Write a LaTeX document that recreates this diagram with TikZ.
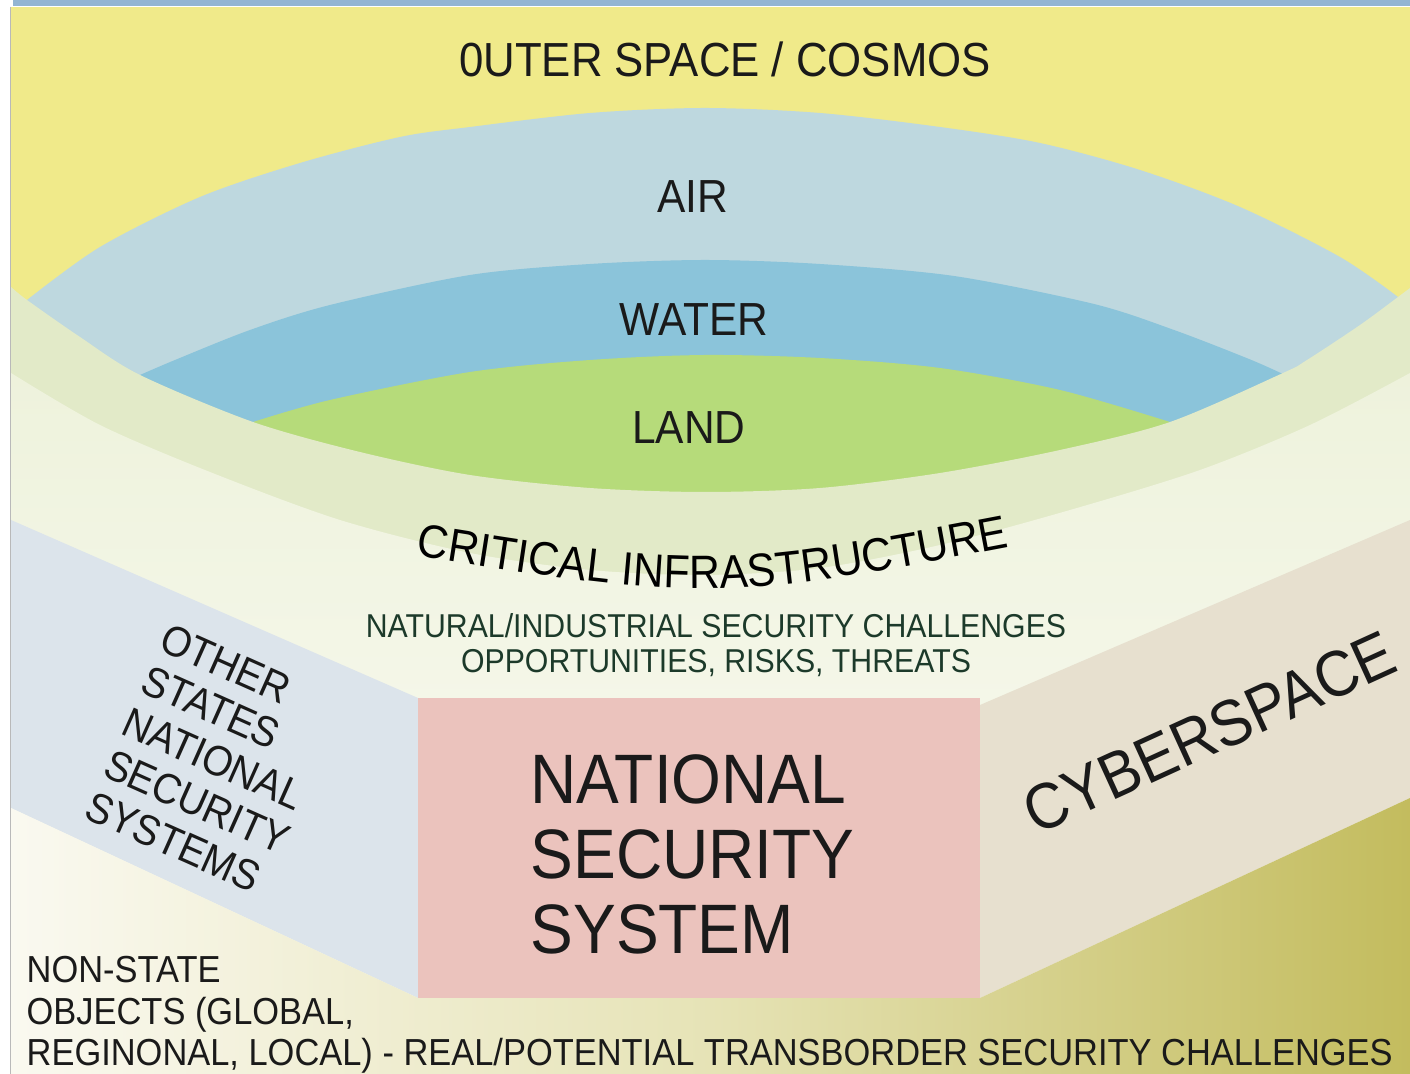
\documentclass[tikz,border=0pt]{standalone}
\usepackage{fontspec}
\setmainfont{Liberation Sans}[FakeStretch=0.915]
\usetikzlibrary{decorations.text}

\definecolor{topbar}{HTML}{93B5D3}
\definecolor{cosmos}{HTML}{F0EA8A}
\definecolor{airc}{HTML}{BED8DF}
\definecolor{waterc}{HTML}{8BC4DA}
\definecolor{landc}{HTML}{B6DB7A}
\definecolor{infrac}{HTML}{E2EAC8}
\definecolor{paletop}{HTML}{EEF2DC}
\definecolor{palebot}{HTML}{FBFCF6}
\definecolor{otherc}{HTML}{DCE4EB}
\definecolor{cyberc}{HTML}{E7E0CF}
\definecolor{nssc}{HTML}{EBC3BD}
\definecolor{groundl}{HTML}{FAF9F0}
\definecolor{groundm}{HTML}{E6E3B6}
\definecolor{groundr}{HTML}{C3BC5E}
\definecolor{ink}{HTML}{1A1A1A}
\definecolor{greenink}{HTML}{1C3A2A}

\begin{document}
\begin{tikzpicture}[x=0.01cm, y=-0.01cm,
    lbl/.style={inner sep=0pt, text=ink},
    layerfont/.style={font=\fontsize{13.2}{15}\selectfont}]

      \useasboundingbox (0,0) rectangle (1410,1074);
      \clip (0,0) rectangle (1410,1074);

      % frame: blue strip on top, grey rule on the left
      \fill[white] (0,0) rectangle (1410,1074);
      \fill[topbar] (13,0) rectangle (1410,6);
      \fill[cosmos] (11,7) rectangle (1410,1074);
      \draw[gray!55, line width=0.3pt] (10.5,7) -- (10.5,1074);

      % air, water and land, cut off below by the infrastructure band
      \fill[airc] plot[smooth] coordinates {(27,300) (100,247) (200,197) (300,163)
        (400,137) (470,127) (590,113) (705,108) (820,113) (940,127) (1040,143)
        (1140,170) (1240,207) (1340,257) (1398,297)} -- (1398,700) -- (27,700) -- cycle;
      \fill[waterc] plot[smooth] coordinates {(140,375) (175,360) (250,330) (330,305)
        (470,275) (590,264) (705,260) (820,264) (954,276) (1094,304) (1174,330)
        (1249,359) (1285,375)} -- (1285,700) -- (140,700) -- cycle;
      \fill[landc] plot[smooth] coordinates {(253,422) (330,400) (470,372) (590,360)
        (705,355) (820,358) (940,368) (1060,390) (1170,422)} -- (1170,700) -- (253,700) -- cycle;

      % critical infrastructure band
      \fill[infrac] plot[smooth] coordinates {(11,287) (27,300) (80,337) (140,375)
        (253,422) (360,452) (470,475) (590,488) (705,492) (820,488) (940,473)
        (1060,450) (1170,422) (1283,373) (1307,360) (1360,325) (1398,297) (1410,288)}
        -- (1410,1074) -- (11,1074) -- cycle;
      \shade[top color=paletop, bottom color=palebot] plot[smooth] coordinates {(11,373)
        (100,425) (210,472) (340,520) (470,553) (590,570) (705,575) (820,568)
        (940,545) (1070,510) (1200,470) (1310,425) (1410,373)}
        -- (1410,1074) -- (11,1074) -- cycle;

      % the three front faces
      \fill[otherc] (11,520) -- (418,698) -- (418,998) -- (11,808) -- cycle;
      \fill[cyberc] (980,705) -- (1410,520) -- (1410,798) -- (980,998) -- cycle;
      \fill[nssc] (418,698) rectangle (980,998);

      % ground below
      \shade[left color=groundl, right color=groundr, middle color=groundm]
        (11,808) -- (418,998) -- (980,998) -- (1410,798) -- (1410,1074) -- (11,1074) -- cycle;

      % labels
      \node[lbl, anchor=base, font=\fontsize{13.6}{16}\selectfont] (cosmos) at (725,77) {0UTER SPACE / COSMOS};
      \node[lbl, anchor=base, layerfont] (air) at (693,213) {AIR};
      \node[lbl, anchor=base, layerfont] (water) at (694,336) {WATER};
      \node[lbl, anchor=base, layerfont] (land) at (689,444) {LAND};

      \path[decorate, decoration={text along path, text align=center,
          text={|\fontsize{13.3}{16}\selectfont|CRITICAL INFRASTRUCTURE}}]
        (370,548) .. controls (712,604) .. (1055,538);

      \node[lbl, text=greenink, anchor=base, font=\fontsize{9.4}{10}\selectfont] (natural) at (716,638)
        {NATURAL/INDUSTRIAL SECURITY CHALLENGES};
      \node[lbl, text=greenink, anchor=base, font=\fontsize{9.4}{10}\selectfont] (risks) at (716,673)
        {OPPORTUNITIES, RISKS, THREATS};

      \node[lbl, anchor=north west, rotate=-24, align=left, font=\fontsize{12.1}{13.1}\selectfont]
        (others) at (169,621) {OTHER\\STATES\\NATIONAL\\SECURITY\\SYSTEMS};

      \node[lbl, anchor=north west, align=left, font=\fontsize{19.9}{21.3}\selectfont]
        (nss) at (530,754) {NATIONAL\\SECURITY\\SYSTEM};

      \node[lbl, anchor=base west, rotate=24.5, font=\fontsize{18.4}{21}\selectfont]
        (cyber) at (1036,836) {CYBERSPACE};

      \node[lbl, anchor=north west, align=left, font=\fontsize{10.7}{11.7}\selectfont]
        (nonstate) at (26,956) {NON-STATE\\OBJECTS (GLOBAL,\\REGINONAL, LOCAL) - REAL/POTENTIAL TRANSBORDER SECURITY CHALLENGES};

    \end{tikzpicture}
\end{document}
